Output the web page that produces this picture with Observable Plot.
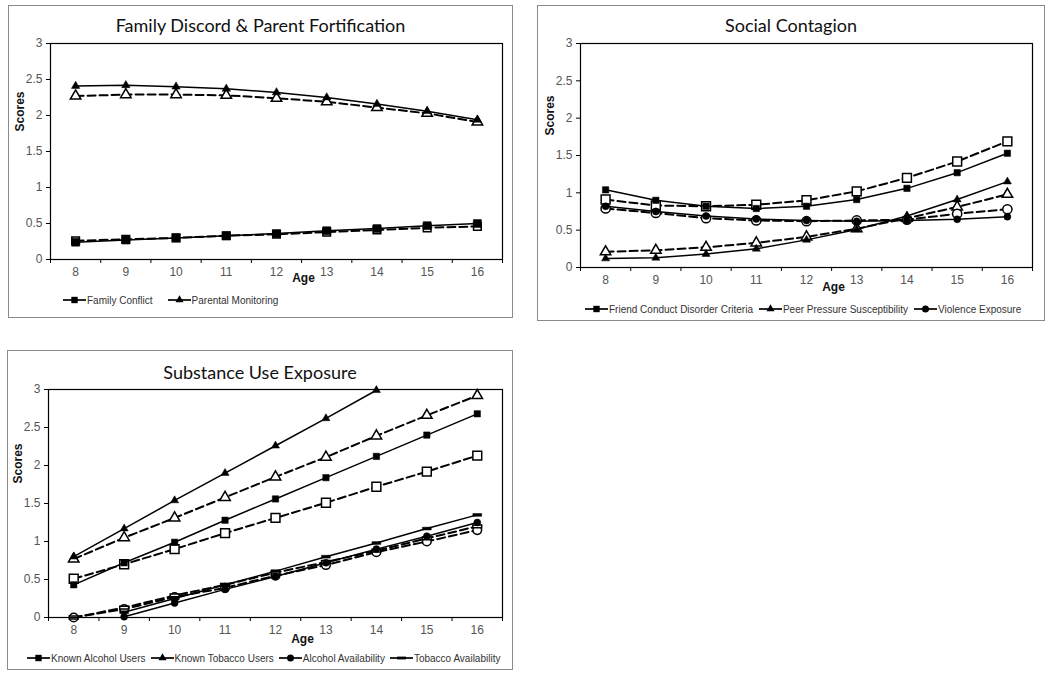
<!DOCTYPE html>
<html><head><meta charset="utf-8">
<script src="https://cdn.jsdelivr.net/npm/d3@7"></script>
<script src="https://cdn.jsdelivr.net/npm/@observablehq/plot@0.6"></script>
<style>
body{margin:0;background:#fff;width:1050px;height:675px;position:relative;overflow:hidden;font-family:"Liberation Sans",Arial,sans-serif;}
.panel{position:absolute;border:1px solid #8a8a8a;box-sizing:border-box;background:#fff;}
.title{position:absolute;left:0;right:0;text-align:center;font-family:Lato,"Open Sans",sans-serif;font-size:18px;line-height:20px;color:#111;}
.plot{position:absolute;left:0;}
.legend{position:absolute;display:flex;align-items:center;font-size:10px;color:#333;white-space:nowrap;}
.item{display:flex;align-items:center;}
.item span{margin-left:1px;}
</style></head><body>
<script>
// ---------- data ----------
const ages = [8, 9, 10, 11, 12, 13, 14, 15, 16];
const ageTickEdges = [7.5, 8.5, 9.5, 10.5, 11.5, 12.5, 13.5, 14.5, 15.5, 16.5];
const yTicks = [0, 0.5, 1, 1.5, 2, 2.5, 3];

// Family Discord & Parent Fortification
const familyConflictSolid      = [0.24, 0.27, 0.30, 0.33, 0.36, 0.40, 0.43, 0.47, 0.50];
const familyConflictDashed     = [0.26, 0.28, 0.30, 0.33, 0.35, 0.38, 0.41, 0.44, 0.46];
const parentalMonitoringSolid  = [2.41, 2.42, 2.40, 2.37, 2.32, 2.25, 2.16, 2.06, 1.94];
const parentalMonitoringDashed = [2.27, 2.29, 2.29, 2.28, 2.24, 2.19, 2.11, 2.03, 1.91];

// Social Contagion
const friendConductSolid  = [1.04, 0.90, 0.82, 0.79, 0.82, 0.91, 1.06, 1.27, 1.53];
const friendConductDashed = [0.91, 0.83, 0.82, 0.84, 0.90, 1.02, 1.20, 1.42, 1.69];
const peerPressureSolid   = [0.12, 0.13, 0.18, 0.25, 0.37, 0.51, 0.69, 0.91, 1.15];
const peerPressureDashed  = [0.21, 0.23, 0.27, 0.33, 0.41, 0.52, 0.66, 0.81, 0.98];
const violenceSolid       = [0.82, 0.75, 0.69, 0.65, 0.63, 0.62, 0.63, 0.645, 0.68];
const violenceDashed      = [0.79, 0.73, 0.66, 0.63, 0.62, 0.63, 0.64, 0.72, 0.78];

// Substance Use Exposure
const knownAlcoholSolid  = [0.43, 0.72, 0.99, 1.28, 1.56, 1.84, 2.12, 2.40, 2.68];
const knownAlcoholDashed = [0.51, 0.70, 0.90, 1.11, 1.31, 1.51, 1.72, 1.92, 2.13];
const knownTobaccoSolid  = [0.80, 1.17, 1.54, 1.90, 2.26, 2.62, 2.99];
const knownTobaccoDashed = [0.77, 1.05, 1.31, 1.58, 1.85, 2.11, 2.39, 2.66, 2.92];
const alcoholAvailSolid  = [null, 0.01, 0.19, 0.37, 0.54, 0.72, 0.90, 1.07, 1.25];
const alcoholAvailDashed = [0.00, 0.11, 0.27, 0.39, 0.55, 0.69, 0.86, 1.00, 1.15];
const tobaccoAvailSolid  = [null, 0.07, 0.25, 0.43, 0.61, 0.80, 0.98, 1.17, 1.35];
const tobaccoAvailDashed = [0.00, 0.13, 0.29, 0.43, 0.59, 0.73, 0.88, 1.04, 1.20];

const titles = ["Family Discord & Parent Fortification", "Social Contagion", "Substance Use Exposure"];
const legend1 = ["Family Conflict", "Parental Monitoring"];
const legend2 = ["Friend Conduct Disorder Criteria", "Peer Pressure Susceptibility", "Violence Exposure"];
const legend3 = ["Known Alcohol Users", "Known Tobacco Users", "Alcohol Availability", "Tobacco Availability"];
const xLabel = "Age";
const yLabel = "Scores";

// ---------- drawing ----------
const dashSymbol = {
  draw(ctx, size) {
    const r = Math.sqrt(size / Math.PI);
    const w = r * 1.7, h = 1.4;
    ctx.moveTo(-w, -h); ctx.lineTo(w, -h); ctx.lineTo(w, h); ctx.lineTo(-w, h); ctx.closePath();
  }
};
const symbolFor = s => s === "dash" ? dashSymbol : s;
const d3SymbolFor = s => s === "dash" ? dashSymbol : ({square: d3.symbolSquare, triangle: d3.symbolTriangle, circle: d3.symbolCircle})[s];

const rows = vals => vals.map((v, i) => ({age: ages[i], value: v}));

function seriesMarks(vals, sym, dashed, rSolid, rOpen) {
  const data = rows(vals);
  return [
    Plot.line(data, {x: "age", y: "value", stroke: "black", strokeWidth: dashed ? 2 : 1.5,
      strokeDasharray: dashed ? "8,4" : null, curve: "linear"}),
    Plot.dot(data, {x: "age", y: "value", symbol: symbolFor(sym), r: dashed ? rOpen : rSolid,
      fill: dashed ? "white" : "black", stroke: "black", strokeWidth: dashed ? 1.5 : 0.5})
  ];
}

function makePlot(cfg) {
  const marks = [];
  for (const s of cfg.series.filter(s => s.dashed)) marks.push(...seriesMarks(s.values, s.sym, true, s.r, s.ro));
  for (const s of cfg.series.filter(s => !s.dashed)) marks.push(...seriesMarks(s.values, s.sym, false, s.r, s.ro));
  return Plot.plot({
    width: cfg.width, height: cfg.height,
    marginLeft: cfg.ml, marginRight: cfg.mr, marginTop: cfg.mt, marginBottom: cfg.mb,
    style: {fontFamily: '"Liberation Sans", Arial, sans-serif', fontSize: "12px", background: "transparent"},
    x: {domain: [7.5, 16.5]},
    y: {domain: [0, 3]},
    marks: [
      Plot.axisY({ticks: yTicks, tickSize: 4, tickPadding: 4, tickFormat: d => String(d), label: null,
        fill: "#555", stroke: "black", fontSize: 12}),
      Plot.axisX({ticks: ageTickEdges, tickSize: 4, tickFormat: () => "", label: null, stroke: "black"}),
      Plot.axisX({ticks: ages, tickSize: 0, tickPadding: cfg.tp, tickFormat: d => String(d), label: null,
        fill: "#555", fontSize: 12}),
      Plot.text([yLabel], {frameAnchor: "left", rotate: -90, dx: -30, dy: -20, fontWeight: "bold", fontSize: 12, fill: "#111"}),
      Plot.text([xLabel], {frameAnchor: "bottom", dx: 27, dy: cfg.ageDy, fontWeight: "bold", fontSize: 12, fill: "#111"}),
      ...marks,
      Plot.frame({stroke: "black", strokeWidth: 1.2})
    ]
  });
}

function legendItem(label, sym, r) {
  const item = document.createElement("div");
  item.className = "item";
  const svg = d3.create("svg").attr("width", 23).attr("height", 12);
  svg.append("line").attr("x1", 0).attr("x2", 23).attr("y1", 6).attr("y2", 6).attr("stroke", "black").attr("stroke-width", 1.7);
  svg.append("path").attr("transform", "translate(11.5,6)")
    .attr("d", d3.symbol(d3SymbolFor(sym), Math.PI * r * r)()).attr("fill", "black");
  item.appendChild(svg.node());
  const sp = document.createElement("span"); sp.textContent = label; item.appendChild(sp);
  return item;
}

function makePanel(p) {
  const div = document.createElement("div");
  div.className = "panel";
  Object.assign(div.style, {left: p.left + "px", top: p.top + "px", width: p.w + "px", height: p.h + "px"});
  const t = document.createElement("div"); t.className = "title"; t.style.top = p.titleTop + "px"; t.textContent = p.title;
  div.appendChild(t);
  const plotWrap = document.createElement("div"); plotWrap.className = "plot"; plotWrap.style.top = p.plotTop + "px";
  plotWrap.appendChild(makePlot(p.plot));
  div.appendChild(plotWrap);
  const lg = document.createElement("div"); lg.className = "legend";
  Object.assign(lg.style, {left: p.legLeft + "px", top: p.legTop + "px", gap: p.legGap + "px"});
  p.legend.forEach(([label, sym, r]) => lg.appendChild(legendItem(label, sym, r)));
  div.appendChild(lg);
  document.body.appendChild(div);
}

makePanel({
  left: 8, top: 5, w: 505, h: 313, title: titles[0], titleTop: 9, plotTop: 29,
  legLeft: 54, legTop: 288, legGap: 15,
  legend: [[legend1[0], "square", 3.6], [legend1[1], "triangle", 3.0]],
  plot: {width: 503, height: 264, ml: 41, mr: 10, mt: 8, mb: 40, tp: 8, ageDy: 22,
    series: [
      {values: familyConflictSolid, sym: "square", r: 4.5},
      {values: familyConflictDashed, sym: "square", dashed: true, ro: 4.3},
      {values: parentalMonitoringSolid, sym: "triangle", r: 3.1},
      {values: parentalMonitoringDashed, sym: "triangle", dashed: true, ro: 3.9}
    ]}
});

makePanel({
  left: 537, top: 5, w: 508, h: 316, title: titles[1], titleTop: 9, plotTop: 29,
  legLeft: 47, legTop: 297, legGap: 6,
  legend: [[legend2[0], "square", 3.6], [legend2[1], "triangle", 3.0], [legend2[2], "circle", 3.5]],
  plot: {width: 506, height: 272, ml: 42, mr: 12, mt: 8, mb: 40, tp: 8, ageDy: 23,
    series: [
      {values: friendConductSolid, sym: "square", r: 3.6},
      {values: friendConductDashed, sym: "square", dashed: true, ro: 5},
      {values: peerPressureSolid, sym: "triangle", r: 3.0},
      {values: peerPressureDashed, sym: "triangle", dashed: true, ro: 3.9},
      {values: violenceSolid, sym: "circle", r: 3.5},
      {values: violenceDashed, sym: "circle", dashed: true, ro: 4.6}
    ]}
});

makePanel({
  left: 7, top: 350, w: 506, h: 320, title: titles[2], titleTop: 11, plotTop: 30,
  legLeft: 19, legTop: 301, legGap: 5,
  legend: [[legend3[0], "square", 3.6], [legend3[1], "triangle", 3.0], [legend3[2], "circle", 3.5], [legend3[3], "dash", 2.6]],
  plot: {width: 504, height: 276, ml: 40, mr: 10, mt: 8, mb: 40, tp: 8, ageDy: 25,
    series: [
      {values: knownAlcoholSolid, sym: "square", r: 3.6},
      {values: knownAlcoholDashed, sym: "square", dashed: true, ro: 5},
      {values: knownTobaccoSolid, sym: "triangle", r: 3.0},
      {values: knownTobaccoDashed, sym: "triangle", dashed: true, ro: 3.9},
      {values: alcoholAvailSolid, sym: "circle", r: 3.5},
      {values: alcoholAvailDashed, sym: "circle", dashed: true, ro: 4.3},
      {values: tobaccoAvailSolid, sym: "dash", r: 2.6},
      {values: tobaccoAvailDashed, sym: "dash", dashed: true, ro: 2.6}
    ]}
});
</script>
</body></html>
